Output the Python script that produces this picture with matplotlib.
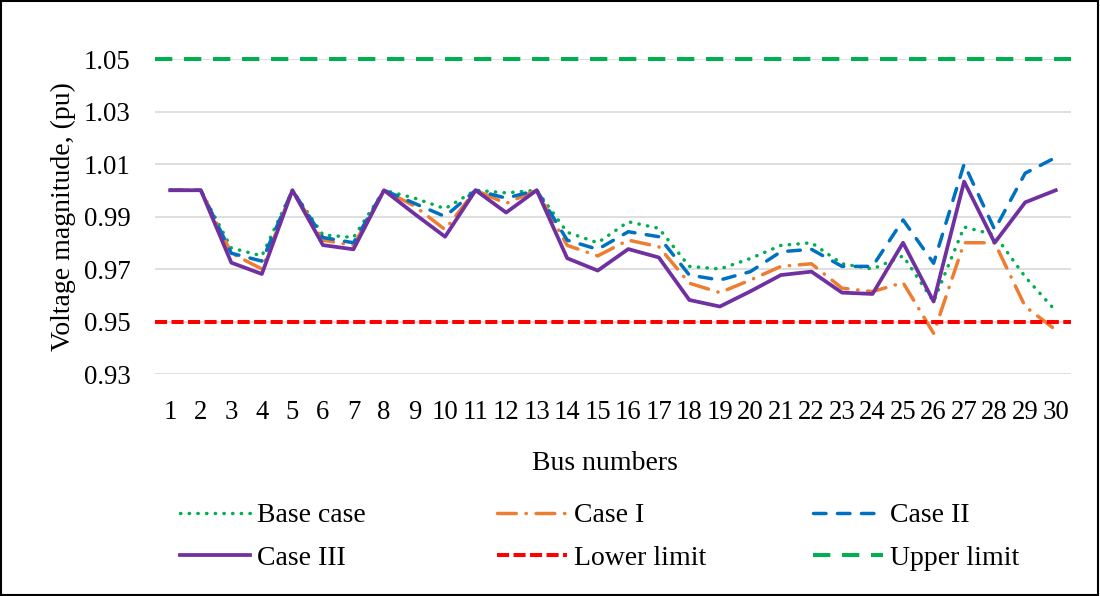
import numpy as np
import matplotlib
matplotlib.use("Agg")
import matplotlib.pyplot as plt
from matplotlib.patches import Rectangle

plt.rcParams['font.family'] = ['Liberation Serif', 'DejaVu Serif']

buses = np.arange(1, 31)

base_case = [1.000, 1.000, 0.978, 0.975, 1.000, 0.983, 0.982, 1.000, 0.997, 0.993,
             1.000, 0.999, 1.000, 0.984, 0.980, 0.988, 0.9855, 0.971, 0.970, 0.974,
             0.979, 0.980, 0.972, 0.970, 0.975, 0.9576, 0.986, 0.983, 0.967, 0.954]
case_1 = [1.000, 1.000, 0.976, 0.970, 1.000, 0.981, 0.979, 1.000, 0.994, 0.985,
          1.000, 0.995, 1.000, 0.979, 0.975, 0.981, 0.9785, 0.9646, 0.961, 0.9658,
          0.971, 0.972, 0.9627, 0.9614, 0.9648, 0.9455, 0.980, 0.980, 0.9557, 0.9468]
case_2 = [1.000, 1.000, 0.976, 0.973, 1.000, 0.982, 0.980, 1.000, 0.995, 0.990,
          1.000, 0.997, 1.000, 0.981, 0.9775, 0.9842, 0.9823, 0.9677, 0.9658, 0.969,
          0.9766, 0.9775, 0.971, 0.971, 0.9887, 0.9722, 1.010, 0.985, 1.0065, 1.0125]
case_3 = [1.000, 1.000, 0.9724, 0.9681, 1.000, 0.9791, 0.9775, 1.000, 0.991, 0.9823,
          1.000, 0.9915, 1.000, 0.9741, 0.9694, 0.9776, 0.9744, 0.9582, 0.9557, 0.9615,
          0.9677, 0.969, 0.961, 0.9605, 0.980, 0.9576, 1.0033, 0.980, 0.9954, 1.000]
lower_limit = 0.95
upper_limit = 1.05

y_ticks = [0.93, 0.95, 0.97, 0.99, 1.01, 1.03, 1.05]

fig = plt.figure(figsize=(11, 5.96), dpi=100)
ax = fig.add_axes([155 / 1100, 1 - 374 / 596, (1071 - 155) / 1100, (374 - 59) / 596])

l_base, = ax.plot(buses, base_case, color='#00B050', lw=2.5,
                  linestyle=(0, (0.1, 2.4)), dash_capstyle='round', label='Base case')
l_c1, = ax.plot(buses, case_1, color='#ED7D31', lw=2.5,
                linestyle=(0, (5.4, 2.8, 0.1, 2.8)), dash_capstyle='round', label='Case I')
l_c2, = ax.plot(buses, case_2, color='#0070C0', lw=2.5,
                linestyle=(0, (3.6, 3.3)), dash_capstyle='round', label='Case II')
l_c3, = ax.plot(buses, case_3, color='#7030A0', lw=2.7, label='Case III')
l_low, = ax.plot([0.5, 30.5], [lower_limit, lower_limit], color='#FF0000', lw=2.9,
                 linestyle=(0, (3.0, 1.1)), label='Lower limit', clip_on=False)
l_up, = ax.plot([0.5, 30.5], [upper_limit, upper_limit], color='#00B050', lw=2.9,
                linestyle=(0, (4.3, 2.9)), label='Upper limit', clip_on=False)

ax.set_xlim(0.5, 30.5)
ax.set_ylim(0.93, 1.05)
ax.set_xticks(buses)
ax.set_xticklabels([str(b) for b in buses])
ax.set_yticks(y_ticks)
ax.set_yticklabels(['%.2f' % v for v in y_ticks])
ax.tick_params(axis='both', length=0, labelsize=19.3)
ax.tick_params(axis='y', pad=17.5)
ax.tick_params(axis='x', pad=19)
ax.grid(axis='y', color='#D9D9D9', lw=1.2)
ax.set_axisbelow(True)
for s in ax.spines.values():
    s.set_visible(False)

ax.set_ylabel('Voltage magnitude, (pu)', fontsize=20)
ax.yaxis.set_label_coords(-(155 - 76) / 916, 0.5)
fig.text(605 / 1100, 1 - 463 / 596, 'Bus numbers', fontsize=20, ha='center', va='center')

# one legend per column so the columns sit where Excel put them
columns = [([l_base, l_c3], 180), ([l_c1, l_low], 497), ([l_c2, l_up], 813)]
for handles, x0 in columns:
    fig.legend(handles=handles, loc='upper left', bbox_to_anchor=(x0 / 1100, 1 - 503 / 596),
               frameon=False, fontsize=20, handlelength=2.52, handletextpad=0.25,
               labelspacing=0.6, borderpad=0, borderaxespad=0)

fig.add_artist(Rectangle((0.001, 0.002), 0.997, 0.996, transform=fig.transFigure,
                         fill=False, edgecolor='black', lw=1.5))

fig.savefig('out.png', dpi=100)
